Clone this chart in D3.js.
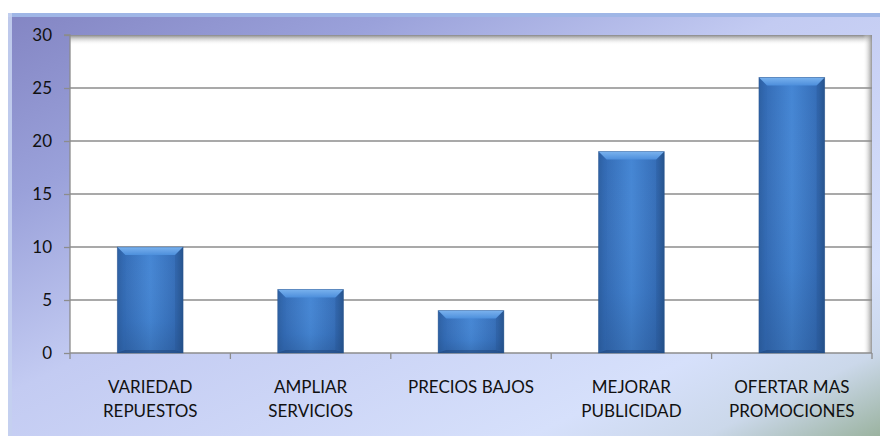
<!DOCTYPE html>
<html><head><meta charset="utf-8">
<script src="https://cdn.jsdelivr.net/npm/d3@7"></script>
<style>html,body{margin:0;padding:0;background:#fff;}svg{display:block;}</style>
</head><body>
<script>
const categories = [["VARIEDAD","REPUESTOS"],["AMPLIAR","SERVICIOS"],["PRECIOS BAJOS"],["MEJORAR","PUBLICIDAD"],["OFERTAR MAS","PROMOCIONES"]];
const values = [10, 6, 4, 19, 26];
const yTicks = [0, 5, 10, 15, 20, 25, 30];

const W = 880, H = 436;
const plot = {l: 70, t: 35, r: 872, b: 353};
const svg = d3.select("body").append("svg").attr("width", W).attr("height", H);
const defs = svg.append("defs");

const bg = defs.append("linearGradient").attr("id","bg").attr("x1",0).attr("y1",0).attr("x2",1).attr("y2",1);
[[0,"#8385c3"],[0.22,"#9aa1da"],[0.45,"#c3cbf2"],[0.8,"#d6e0fb"],[0.9,"#cbd8ea"],[1,"#9bb3a0"]].forEach(s=>bg.append("stop").attr("offset",s[0]).attr("stop-color",s[1]));

const barG = defs.append("linearGradient").attr("id","barG").attr("x1",0).attr("x2",1).attr("y1",0).attr("y2",0);
[[0,"#2c5d9e"],[0.1,"#346cb6"],[0.5,"#4586d4"],[0.9,"#346cb6"],[1,"#27568f"]].forEach(s=>barG.append("stop").attr("offset",s[0]).attr("stop-color",s[1]));
const barV = defs.append("linearGradient").attr("id","barV").attr("x1",0).attr("x2",0).attr("y1",0).attr("y2",1);
[[0,"#ffffff",0],[0.7,"#1c3f70",0.06],[1,"#1c3f70",0.28]].forEach(s=>barV.append("stop").attr("offset",s[0]).attr("stop-color",s[1]).attr("stop-opacity",s[2]));
const topG = defs.append("linearGradient").attr("id","topG").attr("x1",0).attr("x2",0).attr("y1",0).attr("y2",1);
[[0,"#7ab2ee"],[1,"#4d8fdc"]].forEach(s=>topG.append("stop").attr("offset",s[0]).attr("stop-color",s[1]));

const shT = defs.append("linearGradient").attr("id","shT").attr("x1",0).attr("x2",0).attr("y1",0).attr("y2",1);
[[0,"#7a7a7a",0.9],[1,"#ffffff",0]].forEach(s=>shT.append("stop").attr("offset",s[0]).attr("stop-color",s[1]).attr("stop-opacity",s[2]));
const shR = defs.append("linearGradient").attr("id","shR").attr("x1",1).attr("x2",0).attr("y1",0).attr("y2",0);
[[0,"#8a8a8a",0.9],[1,"#ffffff",0]].forEach(s=>shR.append("stop").attr("offset",s[0]).attr("stop-color",s[1]).attr("stop-opacity",s[2]));

// background
svg.append("rect").attr("x",8).attr("y",13).attr("width",W-8).attr("height",H-13).attr("fill","url(#bg)");
svg.append("rect").attr("x",8).attr("y",13).attr("width",W-8).attr("height",4).attr("fill","#9fb6e6");
svg.append("rect").attr("x",8).attr("y",13).attr("width",4).attr("height",H-13).attr("fill","#c4d0f0").attr("opacity",0.9);

// plot area
svg.append("rect").attr("x",plot.l).attr("y",plot.t).attr("width",plot.r-plot.l).attr("height",plot.b-plot.t).attr("fill","#ffffff");
svg.append("rect").attr("x",plot.l).attr("y",plot.t).attr("width",plot.r-plot.l).attr("height",10).attr("fill","url(#shT)");
svg.append("rect").attr("x",plot.r-9).attr("y",plot.t).attr("width",9).attr("height",plot.b-plot.t).attr("fill","url(#shR)");

const x = d3.scaleBand().domain(d3.range(categories.length)).range([plot.l, plot.r]).paddingInner(0.59).paddingOuter(0.295);
const xb = d3.scaleBand().domain(d3.range(categories.length)).range([plot.l, plot.r]);
const y = d3.scaleLinear().domain([0, 30]).range([plot.b, plot.t]);

// gridlines
svg.append("g").selectAll("line").data(yTicks.filter(d=>d>0 && d<30)).join("line")
  .attr("x1",plot.l).attr("x2",plot.r).attr("y1",d=>y(d)).attr("y2",d=>y(d))
  .attr("stroke","#8c8c8c").attr("stroke-width",1.3);

// y axis
const yAxis = svg.append("g").attr("transform",`translate(${plot.l},0)`)
  .call(d3.axisLeft(y).tickValues(yTicks).tickSize(6).tickPadding(12).tickFormat(d3.format("d")));
yAxis.select(".domain").attr("stroke","#8c8c8c").attr("stroke-width",1.3).attr("d",`M-6,${plot.t}H0V${plot.b}`);
yAxis.selectAll(".tick line").attr("stroke","#8c8c8c").attr("stroke-width",1.3);
yAxis.selectAll("text").attr("font-family","Lato, 'Open Sans', sans-serif").attr("font-size",17).attr("fill","#111");

// x axis
const xAxisG = svg.append("g").attr("transform",`translate(0,${plot.b})`);
xAxisG.append("line").attr("x1",plot.l).attr("x2",plot.r).attr("stroke","#8c8c8c").attr("stroke-width",1.3);
xAxisG.selectAll("line.t").data(d3.range(categories.length+1)).join("line").attr("class","t")
  .attr("x1",i=>plot.l + i*xb.bandwidth()).attr("x2",i=>plot.l + i*xb.bandwidth()).attr("y1",0).attr("y2",6)
  .attr("stroke","#8c8c8c").attr("stroke-width",1.3);
xAxisG.selectAll("text").data(categories).join("text")
  .attr("x",(d,i)=>xb(i)+xb.bandwidth()/2)
  .attr("y",40)
  .attr("text-anchor","middle").attr("font-family","Lato, 'Open Sans', sans-serif").attr("font-size",17).attr("fill","#111")
  .each(function(d){
    const t = d3.select(this);
    d.forEach((line,k)=>t.append("tspan").attr("x",t.attr("x")).attr("dy",k===0?0:24).text(line));
  });

// bars
const bars = svg.append("g").selectAll("g").data(values).join("g");
bars.append("rect").attr("x",(d,i)=>x(i)).attr("y",d=>y(d)).attr("width",x.bandwidth()).attr("height",d=>plot.b-y(d)).attr("fill","url(#barG)");
bars.append("rect").attr("x",(d,i)=>x(i)).attr("y",d=>y(d)).attr("width",x.bandwidth()).attr("height",d=>plot.b-y(d)).attr("fill","url(#barV)");
const bev = 8;
bars.append("path").attr("d",(d,i)=>{const x0=x(i),x1=x(i)+x.bandwidth(),y0=y(d);
  return `M${x0},${y0}H${x1}L${x1-bev},${y0+bev}H${x0+bev}Z`;}).attr("fill","url(#topG)");
bars.append("path").attr("d",(d,i)=>{const x0=x(i),y0=y(d);
  return `M${x0},${y0}L${x0+bev},${y0+bev}V${plot.b-3}L${x0},${plot.b}Z`;}).attr("fill","#2f66ae").attr("opacity",0.25);
bars.append("path").attr("d",(d,i)=>{const x1=x(i)+x.bandwidth(),y0=y(d);
  return `M${x1},${y0}L${x1-bev},${y0+bev}V${plot.b-3}L${x1},${plot.b}Z`;}).attr("fill","#234f8a").attr("opacity",0.3);
bars.append("path").attr("d",(d,i)=>{const x0=x(i),x1=x(i)+x.bandwidth();
  return `M${x0},${plot.b}L${x0+bev},${plot.b-3}H${x1-bev}L${x1},${plot.b}Z`;}).attr("fill","#1f4478").attr("opacity",0.5);
bars.append("rect").attr("x",(d,i)=>x(i)).attr("y",d=>y(d)).attr("width",x.bandwidth()).attr("height",d=>plot.b-y(d))
  .attr("fill","none").attr("stroke","#2a558f").attr("stroke-width",0.8).attr("stroke-opacity",0.5);
</script>
</body></html>
